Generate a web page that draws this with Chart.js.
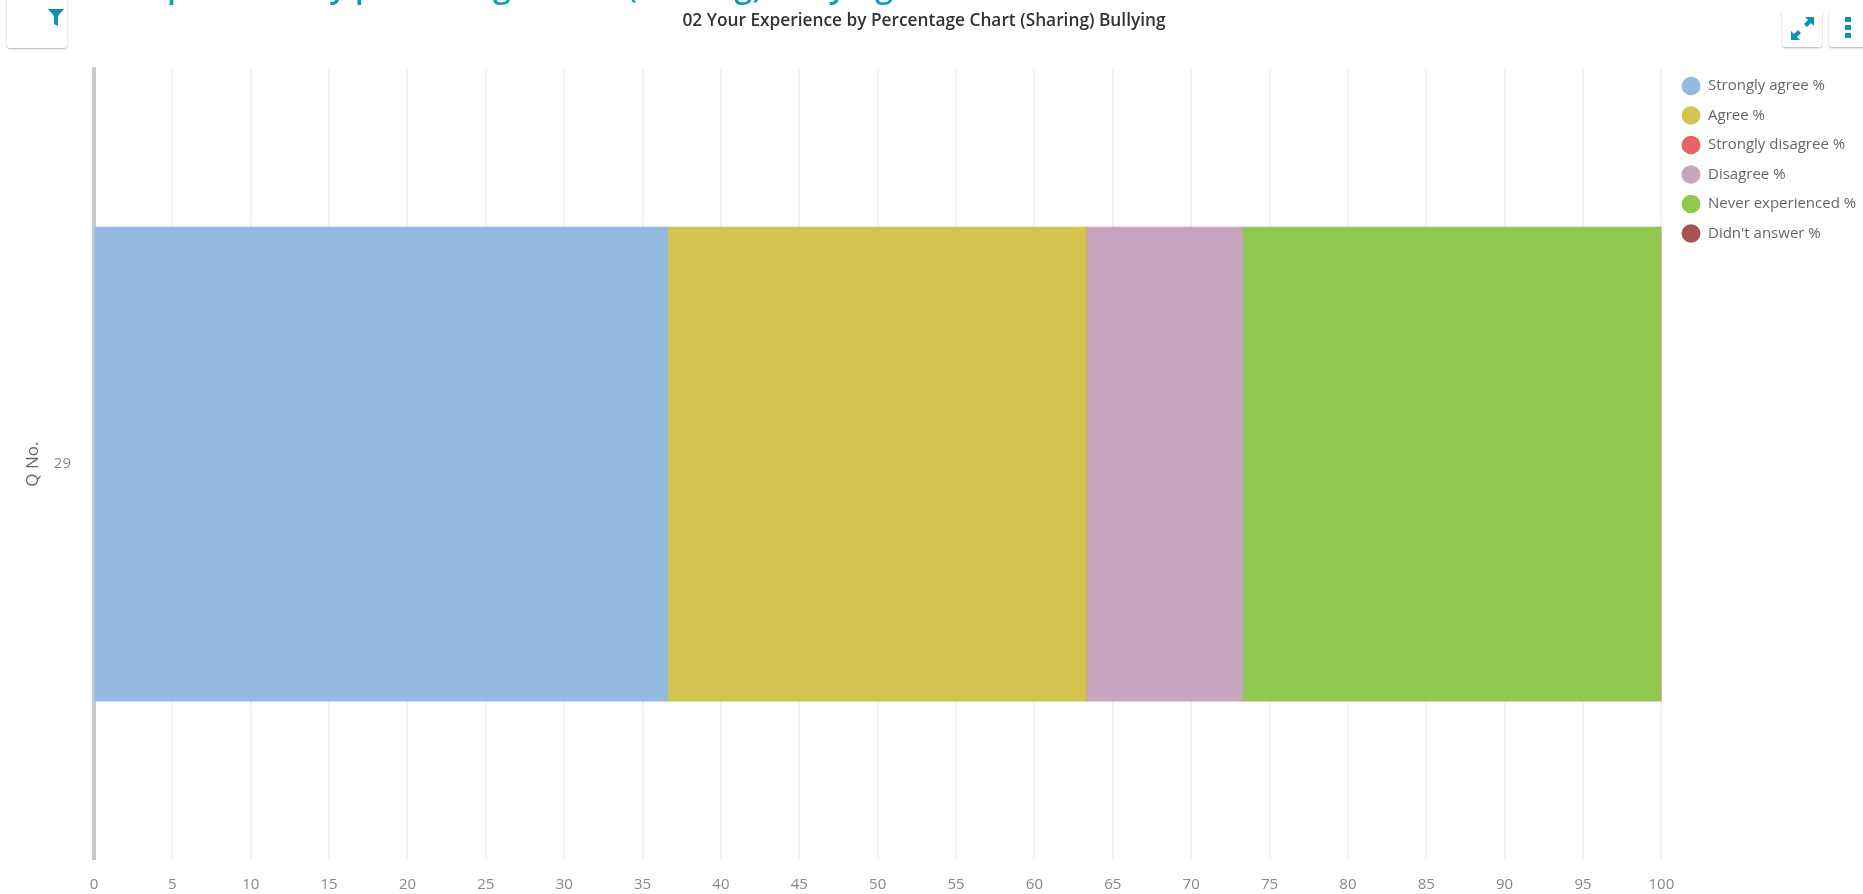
<!DOCTYPE html>
<html>
<head>
<meta charset="utf-8">
<title>02 Your Experience by Percentage Chart (Sharing) Bullying</title>
<script src="https://cdn.jsdelivr.net/npm/chart.js@4"></script>
<style>
html,body{margin:0;padding:0;background:#fff;overflow:hidden;}
#wrap{position:relative;width:1863px;height:894px;overflow:hidden;}
#chart{position:absolute;left:0;top:0;}
#pageTitle{position:absolute;left:50px;top:-37px;font:600 32px "Open Sans",sans-serif;color:#0a9db5;white-space:nowrap;}
.btn{position:absolute;background:#fff;border-radius:3px;box-shadow:0 1px 2px rgba(0,0,0,.3);}
.btn svg{position:absolute;}
</style>
</head>
<body>
<div id="wrap">
<canvas id="chart" width="1863" height="894"></canvas>
<div id="pageTitle">Your experience by percentage chart (sharing) bullying</div>
<div class="btn" style="left:7px;top:-4px;width:60px;height:52px;">
<svg style="left:40px;top:12px" width="18" height="20" viewBox="0 0 18 20"><path d="M1 1H17L11 8V18L7 16V8Z" fill="#0f8fbb"/></svg>
</div>
<div class="btn" style="left:1782px;top:9px;width:40px;height:38px;">
<svg style="left:8px;top:7px" width="25" height="25" viewBox="0 0 25 25"><path d="M15 1H24V10L21 7L17 11L14 8L18 4ZM1 15V24H10L7 21L11 17L8 14L4 18Z" fill="#0f8fbb"/></svg>
</div>
<div class="btn" style="left:1829px;top:9px;width:40px;height:38px;">
<svg style="left:15px;top:7px" width="8" height="24" viewBox="0 0 8 24"><rect x="1" y="1" width="6" height="5" fill="#0f8fbb"/><rect x="1" y="9" width="6" height="5" fill="#0f8fbb"/><rect x="1" y="17" width="6" height="5" fill="#0f8fbb"/></svg>
</div>
</div>

<script>
/* ================= DATA ================= */

const categories=["29"];
const seriesNames=["Strongly agree %","Agree %","Strongly disagree %","Disagree %","Never experienced %","Didn't answer %"];
const seriesColors=["#95bae1","#d2c44f","#e96366","#c8a5be","#90c851","#a55353"];

const stronglyAgree=[36.6];
const agree=[26.7];
const stronglyDisagree=[0];
const disagree=[10];
const neverExperienced=[26.7];
const didntAnswer=[0];

const seriesValues=[stronglyAgree,agree,stronglyDisagree,disagree,neverExperienced,didntAnswer];


/* ================= CHART ================= */

const datasets=seriesNames.map((name,i)=>({
label:name,
data:seriesValues[i],
backgroundColor:seriesColors[i],
borderWidth:0,
inflateAmount:0.5,
barPercentage:0.6,
categoryPercentage:1
}));

// title sits a little left of centre, legend starts below the title band
const nudgeBoxes={
id:"nudgeBoxes",
afterLayout(chart){
chart.titleBlock.left=-15;
chart.titleBlock.right=1863;
chart.legend.top=64;
chart.legend.left=1667;
}
};

new Chart(document.getElementById("chart"),{
type:"bar",
data:{labels:categories,datasets},
plugins:[nudgeBoxes],
options:{
indexAxis:"y",
responsive:false,
animation:false,
layout:{padding:{left:0,right:2.5,top:0,bottom:0}},
plugins:{
tooltip:{enabled:false},
title:{
display:true,
text:"02 Your Experience by Percentage Chart (Sharing) Bullying",
color:"#333",
font:{family:"'Open Sans'",size:17.3,weight:"600"},
padding:{top:11,bottom:37.6}
},
legend:{
position:"right",
align:"start",
labels:{
usePointStyle:true,
pointStyleWidth:19,
boxHeight:13,
color:"#666",
padding:14.5,
font:{family:"'Open Sans'",size:15}
}
}
},
scales:{
x:{
stacked:true,
min:0,
max:100,
afterFit(scale){scale.height=35;},
ticks:{stepSize:5,color:"#888",font:{family:"'Open Sans'",size:15},maxRotation:0,autoSkip:false,padding:17},
grid:{color:"#f2f2f2",lineWidth:2,drawTicks:false},
border:{display:false}
},
y:{
stacked:true,
afterFit(scale){scale.width=94;},
title:{display:true,text:"Q No.",color:"#666",font:{family:"'Open Sans'",size:17},padding:{top:23,bottom:0}},
ticks:{color:"#888",font:{family:"'Open Sans'",size:15},padding:15},
grid:{display:false},
border:{color:"#c8c8c8",width:4}
}
}
}
});
</script>
</body>
</html>
